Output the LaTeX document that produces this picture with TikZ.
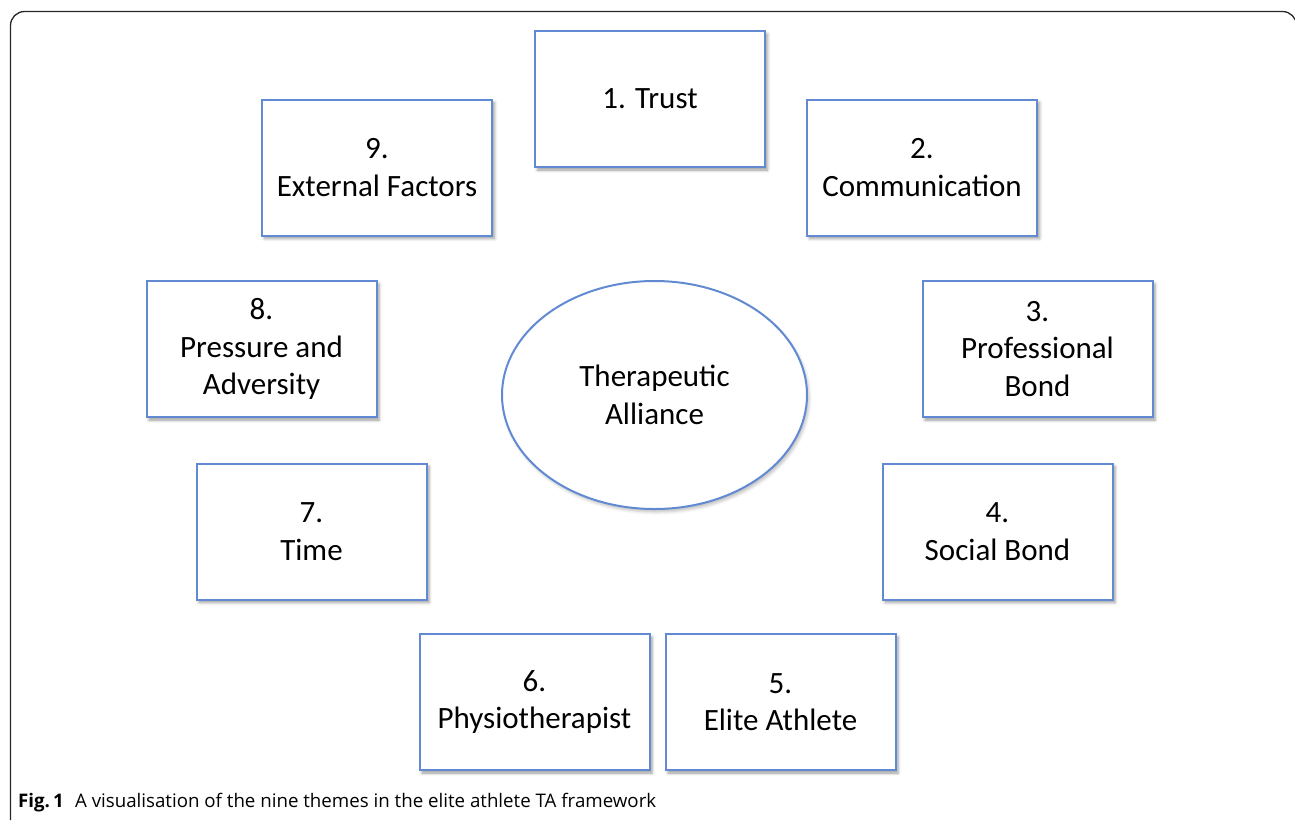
\documentclass[tikz,border=0pt]{standalone}
\usepackage{fontspec}
\setmainfont{Carlito}
\newfontfamily\capfont{Open Sans}
\usetikzlibrary{shapes.geometric,shadows.blur}
\definecolor{themeblue}{RGB}{98,138,210}
\definecolor{framegray}{RGB}{40,40,40}
\tikzset{
  theme/.style={draw=themeblue, line width=2pt, fill=white,
    minimum width=230pt, minimum height=136pt, inner sep=0pt,
    align=center, font=\fontsize{31}{37.5}\selectfont,
    blur shadow={shadow xshift=2.5pt, shadow yshift=-3pt,
      shadow blur radius=3pt, shadow opacity=40}},
  core/.style={ellipse, draw=themeblue, line width=2pt, fill=white,
    minimum width=305pt, minimum height=228pt, inner sep=0pt,
    align=center, font=\fontsize{31}{37.5}\selectfont,
    blur shadow={shadow xshift=2pt, shadow yshift=-3pt,
      shadow blur radius=3pt, shadow opacity=25}},
  caption/.style={anchor=base west, inner sep=0pt,
    font=\capfont\fontsize{18.7}{22}\selectfont}
}
\begin{document}
\begin{tikzpicture}[x=1pt, y=-1pt]
  \useasboundingbox (0,0) rectangle (1295,820);
  % outer frame, open at the bottom
  \draw[framegray, line width=1.3pt, rounded corners=14pt]
    (10.5,820) -- (10.5,11.5) -- (1296.5,11.5) -- (1296.5,820);

  % central theme
  \node[core] (ta) at (654.5,395) {Therapeutic\\Alliance};

  % the nine themes, clockwise from the top
  \node[theme] (t1) at (650,99)      {1. Trust};
  \node[theme] (t2) at (922,167.5)   {2.\\Communication};
  \node[theme] (t3) at (1037.5,349)  {3.\\Professional\\Bond};
  \node[theme] (t4) at (997.5,531.5) {4.\\Social Bond};
  \node[theme] (t5) at (780.5,702)   {5.\\Elite Athlete};
  \node[theme] (t6) at (534.5,702)   {6.\\Physiotherapist};
  \node[theme] (t7) at (311.5,531.5) {7.\\Time};
  \node[theme] (t8) at (261.5,349)   {8.\\Pressure and\\Adversity};
  \node[theme] (t9) at (377,167.5)   {9.\\External Factors};

  % figure caption
  \node[caption] (cap) at (18,807.5)
    {\textbf{Fig.\,1}\hspace{0.6em}A visualisation of the nine themes in the elite athlete TA framework};
\end{tikzpicture}
\end{document}
